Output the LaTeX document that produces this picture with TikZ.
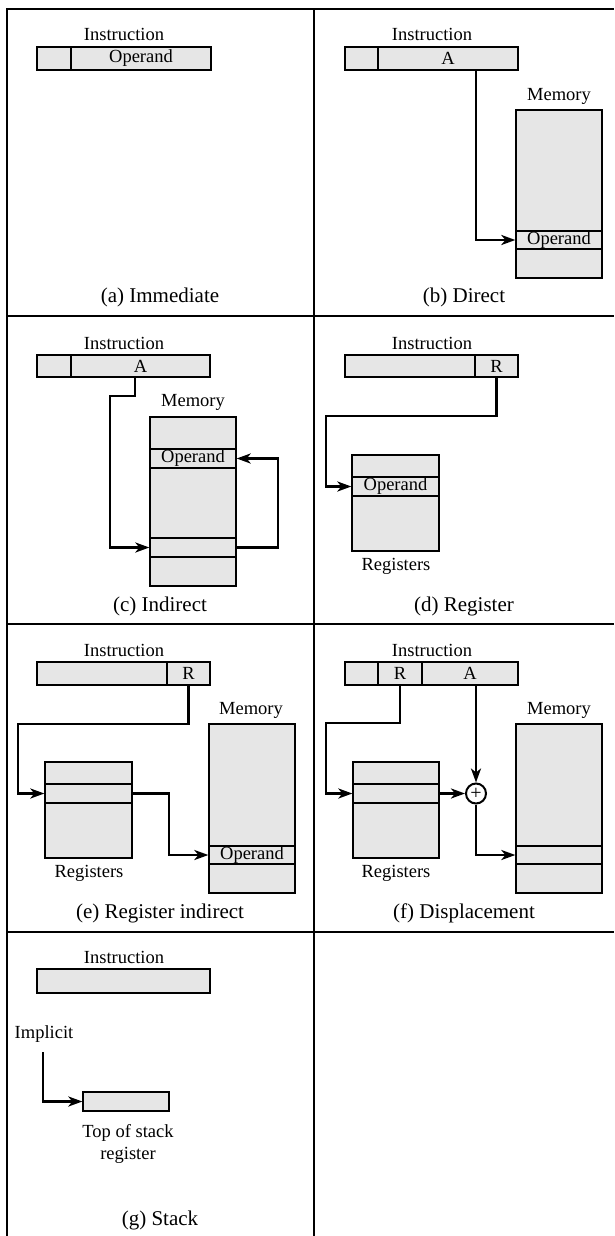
\documentclass[tikz,border=0pt]{standalone}
\usepackage{fontspec}
\setmainfont{Liberation Serif}
\usetikzlibrary{arrows.meta}
\definecolor{cellgray}{HTML}{E6E6E6}
\newcommand\cellat[6]{\node[cell, minimum width={#4-#2}, minimum height={#5-#3}] (#1) at ({(#2+#4)/2},{(#3+#5)/2}) {#6};}
\begin{document}
\begin{tikzpicture}[x=1pt,y=-1pt,
  cell/.style={draw, fill=cellgray, line width=1.3pt, inner sep=0pt, font=\fontsize{18.5}{22}\selectfont},
  lbl/.style={font=\fontsize{18.5}{22}\selectfont, inner sep=0pt, align=center},
  captext/.style={font=\fontsize{21}{25}\selectfont, inner sep=0pt},
  link/.style={line width=2.8pt, -{Stealth[length=14pt,width=10pt,inset=4pt]}},
  gridline/.style={line width=1.6pt},
  addnode/.style={circle, draw, fill=white, line width=2pt, minimum size=20pt, inner sep=0pt, font=\fontsize{20}{20}\selectfont}]
\useasboundingbox (0,0) rectangle (614,1236);
% grid
\draw[gridline] (7,1236) -- (7,9) -- (614,9);
\draw[gridline] (314,9) -- (314,1236);
\draw[gridline] (7,316) -- (614,316);
\draw[gridline] (7,624) -- (614,624);
\draw[gridline] (7,932) -- (614,932);

% (a) Immediate
\node[lbl] (la) at (124,34) {Instruction};
\cellat{iaA}{37}{47}{71}{70}{}
\cellat{iaB}{71}{47}{211}{70}{Operand}
\node[captext] (ca) at (160,297) {(a) Immediate};

% (b) Direct
\node[lbl] (lb) at (432,34) {Instruction};
\cellat{ibA}{345}{47}{378}{70}{}
\cellat{ibB}{378}{47}{518}{70}{A}
\node[lbl] (mlb) at (559,96) {Memory};
\cellat{mbA}{516}{110}{602}{231}{}
\cellat{mbB}{516}{231}{602}{249}{Operand}
\cellat{mbC}{516}{249}{602}{278}{}
\draw[link] (476,0 |- ibB.south) |- (mbB.west);
\node[captext] (cb) at (464,297) {(b) Direct};

% (c) Indirect
\node[lbl] (lc) at (124,343) {Instruction};
\cellat{icA}{37}{355}{71}{377}{}
\cellat{icB}{71}{355}{210}{377}{A}
\node[lbl] (mlc) at (193,402) {Memory};
\cellat{mcA}{150}{417}{236}{449}{}
\cellat{mcB}{150}{449}{236}{468}{Operand}
\cellat{mcC}{150}{468}{236}{538}{}
\cellat{mcD}{150}{538}{236}{557}{}
\cellat{mcE}{150}{557}{236}{586}{}
\draw[link] (135,0 |- icB.south) -- (135,396) -- (110,396) |- (mcD.west);
\draw[link] (mcD.east) -- (278,0 |- mcD.east) |- (mcB.east);
\node[captext] (cc) at (160,606) {(c) Indirect};

% (d) Register
\node[lbl] (ld) at (432,343) {Instruction};
\cellat{idA}{345}{355}{475}{377}{}
\cellat{idB}{475}{355}{518}{377}{R}
\cellat{rdA}{352}{455}{439}{477}{}
\cellat{rdB}{352}{477}{439}{496}{Operand}
\cellat{rdC}{352}{496}{439}{551}{}
\node[lbl] (rld) at (396,566) {Registers};
\draw[link] (idB.south) |- (326,416) |- (rdB.west);
\node[captext] (cd) at (464,606) {(d) Register};

% (e) Register indirect
\node[lbl] (le) at (124,650) {Instruction};
\cellat{ieA}{37}{662}{167}{685}{}
\cellat{ieB}{167}{662}{210}{685}{R}
\cellat{reA}{45}{762}{132}{784}{}
\cellat{reB}{45}{784}{132}{803}{}
\cellat{reC}{45}{803}{132}{858}{}
\node[lbl] (rle) at (89,873) {Registers};
\node[lbl] (mle) at (251,710) {Memory};
\cellat{meA}{209}{724}{295}{846}{}
\cellat{meB}{209}{846}{295}{864}{Operand}
\cellat{meC}{209}{864}{295}{893}{}
\draw[link] (ieB.south) |- (18,724) |- (reB.west);
\draw[link] (reB.east) -- (169,0 |- reB.east) |- (meB.west);
\node[captext] (ce) at (160,913) {(e) Register indirect};

% (f) Displacement
\node[lbl] (lf) at (432,650) {Instruction};
\cellat{ifA}{345}{662}{378}{685}{}
\cellat{ifB}{378}{662}{422}{685}{R}
\cellat{ifC}{422}{662}{518}{685}{A}
\cellat{rfA}{353}{762}{439}{784}{}
\cellat{rfB}{353}{784}{439}{803}{}
\cellat{rfC}{353}{803}{439}{858}{}
\node[lbl] (rlf) at (396,873) {Registers};
\node[lbl] (mlf) at (559,710) {Memory};
\cellat{mfA}{516}{724}{602}{846}{}
\cellat{mfB}{516}{846}{602}{864}{}
\cellat{mfC}{516}{864}{602}{893}{}
\node[addnode] (plus) at (476,793.5) {+};
\draw[link] (ifB.south) |- (326,723) |- (rfB.west);
\draw[link] (rfB.east) -- (plus.west);
\draw[link] (476,0 |- ifC.south) -- (plus.north);
\draw[link] (plus.south) |- (mfB.west);
\node[captext] (cf) at (464,913) {(f) Displacement};

% (g) Stack
\node[lbl] (lg) at (124,957) {Instruction};
\cellat{ig}{37}{969}{210}{993}{}
\node[lbl] (impl) at (44,1034) {Implicit};
\coordinate (imp) at (43,1052);
\cellat{tos}{83}{1092}{169}{1111}{}
\draw[link] (imp) |- (tos.west);
\node[lbl] (tosl) at (128,1144) {Top of stack\\register};
\node[captext] (cg) at (160,1220) {(g) Stack};
\end{tikzpicture}
\end{document}
